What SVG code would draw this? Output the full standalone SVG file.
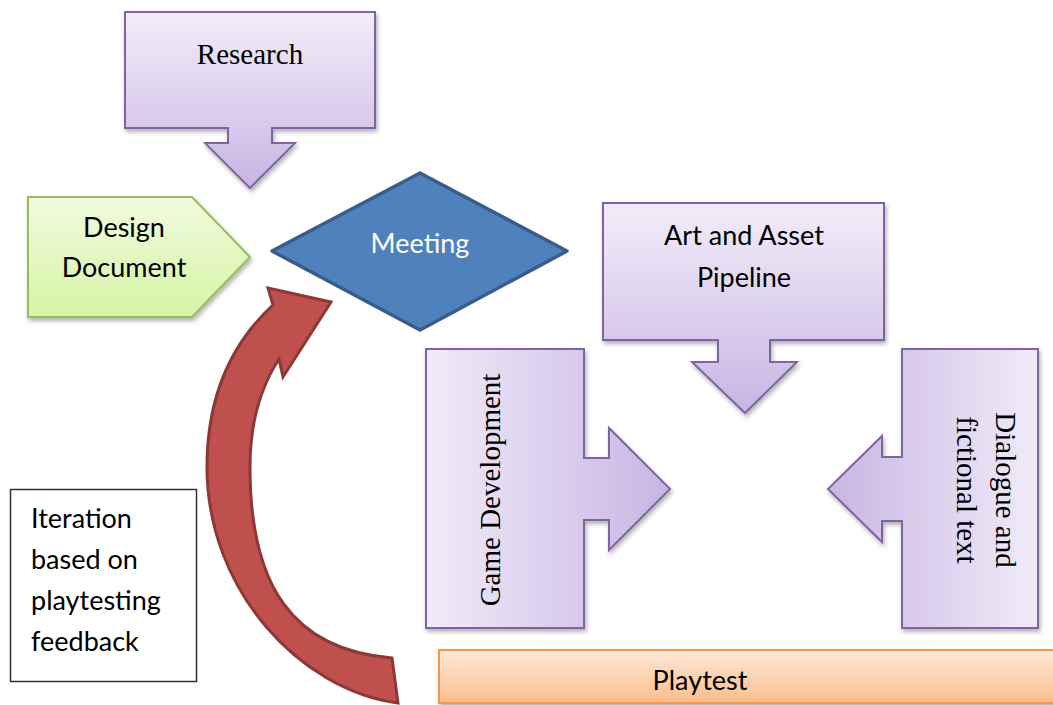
<svg xmlns="http://www.w3.org/2000/svg" width="1053" height="705" viewBox="0 0 1053 705">
<defs>
<linearGradient id="gPurpleV" x1="0" y1="0" x2="0" y2="1">
<stop offset="0" stop-color="#F2EDF9"/><stop offset="1" stop-color="#C8B5E3"/>
</linearGradient>
<linearGradient id="gPurpleR" x1="0" y1="0" x2="1" y2="0">
<stop offset="0" stop-color="#F0EBF8"/><stop offset="1" stop-color="#C8B5E3"/>
</linearGradient>
<linearGradient id="gPurpleL" x1="1" y1="0" x2="0" y2="0">
<stop offset="0" stop-color="#F0EBF8"/><stop offset="1" stop-color="#C8B5E3"/>
</linearGradient>
<linearGradient id="gGreen" x1="0" y1="0" x2="0" y2="1">
<stop offset="0" stop-color="#F1FBDF"/><stop offset="1" stop-color="#D5F4A4"/>
</linearGradient>
<linearGradient id="gOrange" x1="0" y1="0" x2="0" y2="1">
<stop offset="0" stop-color="#FDE8D8"/><stop offset="1" stop-color="#FBBE8C"/>
</linearGradient>
<filter id="sh" x="-10%" y="-10%" width="130%" height="130%">
<feDropShadow dx="1.5" dy="3" stdDeviation="2" flood-color="#000" flood-opacity="0.3"/>
</filter>
<style>
.purple{stroke:#8064A2;stroke-width:2;filter:url(#sh)}
.serif{font-family:"Liberation Serif","Times New Roman",serif;font-size:29px;fill:#000}
.sans{font-family:Lato,"Liberation Sans",sans-serif;font-size:27px;fill:#000}
</style>
</defs>
<g id="connectors">
<path id="iteration-arrow" d="M398,703 C300,690 207,590 207,467 C207,390 235,340 273,305 L268,288 L331,302 L283,377 L279,359 C262,385 250,420 250,467 C250,585 292,650 392,658 Z" fill="#C0504D" stroke="#8C3836" stroke-width="3" stroke-linejoin="miter"/>
</g>
<g id="research">
<path class="purple" fill="url(#gPurpleV)" d="M125,12 H375 V128 H272 V143 H295 L250,188 L205,143 H228 V128 H125 Z"/>
<text class="serif" x="250" y="64" text-anchor="middle">Research</text>
</g>
<g id="design-document">
<path fill="url(#gGreen)" stroke="#9BBB59" stroke-width="2" filter="url(#sh)" d="M28,197 H192 L250,257 L192,317 H28 Z"/>
<text class="sans" x="124" y="237" text-anchor="middle">Design</text>
<text class="sans" x="124" y="277" text-anchor="middle">Document</text>
</g>
<g id="meeting">
<path fill="#4F81BD" stroke="#385D8A" stroke-width="3.5" stroke-linejoin="round" d="M420,173 L567,251 L420,330 L272,251 Z"/>
<text class="sans" x="420" y="253" text-anchor="middle" style="fill:#fff">Meeting</text>
</g>
<g id="art-asset-pipeline">
<path class="purple" fill="url(#gPurpleV)" d="M603,203 H884 V340 H770 V362 H797 L745,413 L692,362 H718 V340 H603 Z"/>
<text class="sans" x="744" y="245" text-anchor="middle">Art and Asset</text>
<text class="sans" x="744" y="287" text-anchor="middle">Pipeline</text>
</g>
<g id="game-development">
<path class="purple" fill="url(#gPurpleR)" d="M426,349 H584 V458 H609 V428 L670,489 L609,550 V520 H584 V628 H426 Z"/>
<text class="serif" transform="translate(500,490) rotate(-90)" x="0" y="0" text-anchor="middle">Game Development</text>
</g>
<g id="dialogue">
<path class="purple" fill="url(#gPurpleL)" d="M902,349 H1038 V628 H902 V521 H882 V542 L828,489 L882,436 V457 H902 Z"/>
<text class="serif" transform="translate(996,490) rotate(90)" x="0" y="0" text-anchor="middle">Dialogue and</text>
<text class="serif" transform="translate(957,490) rotate(90)" x="0" y="0" text-anchor="middle">fictional text</text>
</g>
<g id="playtest">
<rect x="439" y="650" width="640" height="53" fill="url(#gOrange)" stroke="#F79646" stroke-width="2" filter="url(#sh)"/>
<text class="sans" x="700" y="690" text-anchor="middle">Playtest</text>
</g>
<g id="iteration-note">
<rect x="10.5" y="489.5" width="186" height="192" fill="#fff" stroke="#333" stroke-width="1.5"/>
<text class="sans" x="31" y="528">Iteration</text>
<text class="sans" x="31" y="569">based on</text>
<text class="sans" x="31" y="610">playtesting</text>
<text class="sans" x="31" y="651">feedback</text>
</g>
</svg>
